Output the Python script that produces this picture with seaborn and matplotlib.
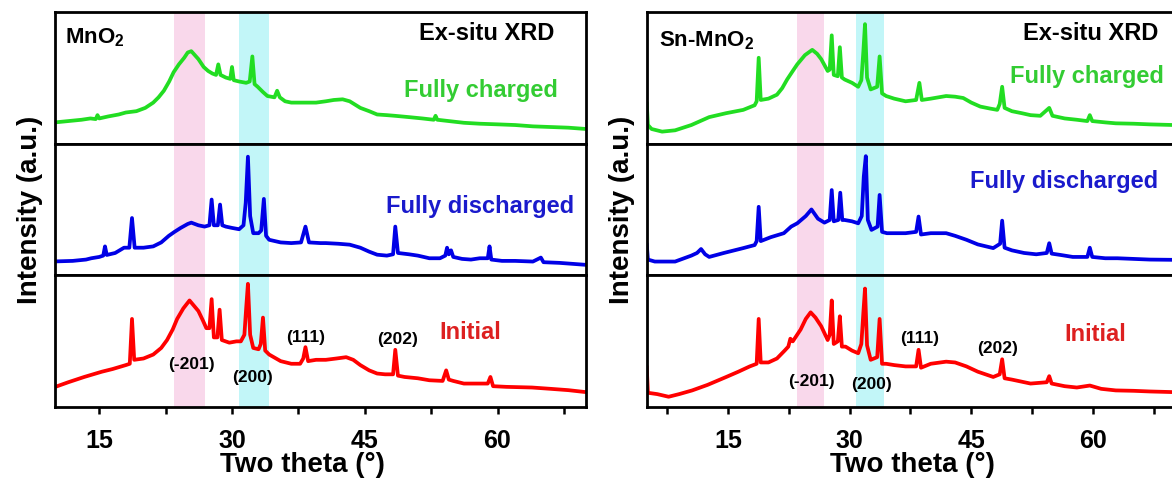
import matplotlib
matplotlib.use("Agg")
import matplotlib.pyplot as plt
from matplotlib.ticker import MultipleLocator
import seaborn as sns

# ---------------- data: normalised intensity per pattern ----------------
# MnO2, fully charged
mno2_charged_x = [10.0, 11.5, 13.0, 14.0, 14.6, 14.8, 15.0, 16.0, 17.2, 18.0, 19.2, 20.2, 21.1, 21.7,
                  22.3, 22.9, 23.4, 24.0, 24.6, 25.0, 25.4, 25.8, 26.2, 26.8, 27.3, 27.8, 28.2, 28.45,
                  28.7, 29.3, 29.8, 30.0, 30.2, 30.8, 31.6, 32.0, 32.3, 32.55, 32.9, 33.5, 34.0, 34.8,
                  35.1, 35.4, 36.0, 36.7, 38.0, 39.5, 40.6, 41.5, 42.5, 43.3, 44.5, 45.5, 46.4, 47.5,
                  48.4, 50.0, 51.5, 52.8, 53.0, 53.2, 54.5, 56.2, 58.0, 60.1, 62.0, 64.0, 66.0, 68.0, 70.0]
mno2_charged_y = [0.16, 0.17, 0.18, 0.19, 0.185, 0.215, 0.19, 0.205, 0.22, 0.235, 0.245, 0.27, 0.31, 0.35,
                  0.40, 0.47, 0.54, 0.60, 0.65, 0.69, 0.70, 0.67, 0.64, 0.58, 0.55, 0.53, 0.52, 0.60,
                  0.52, 0.50, 0.49, 0.58, 0.48, 0.47, 0.46, 0.47, 0.66, 0.45, 0.43, 0.39, 0.36, 0.35,
                  0.40, 0.35, 0.32, 0.31, 0.31, 0.31, 0.32, 0.33, 0.335, 0.32, 0.27, 0.245, 0.22, 0.215,
                  0.21, 0.20, 0.19, 0.18, 0.21, 0.18, 0.17, 0.157, 0.15, 0.145, 0.14, 0.13, 0.125, 0.12, 0.11]

# MnO2, fully discharged
mno2_discharged_x = [10.0, 12.0, 13.5, 14.1, 15.0, 15.45, 15.65, 15.85, 16.8, 17.8, 18.4, 18.7, 19.0, 20.0,
                     21.1, 22.0, 22.86, 23.5, 24.2, 25.0, 25.4, 26.2, 26.9, 27.45, 27.7, 27.95, 28.4, 28.65,
                     28.9, 29.3, 30.0, 30.8, 31.3, 31.55, 31.8, 32.05, 32.4, 33.0, 33.3, 33.6, 33.85, 34.2,
                     35.5, 36.7, 37.8, 38.3, 38.7, 40.0, 40.6, 42.0, 43.3, 44.5, 45.5, 46.4, 47.5, 48.2,
                     48.45, 48.75, 50.0, 51.0, 52.3, 53.5, 54.1, 54.3, 54.5, 54.75, 55.0, 56.0, 57.0, 58.0,
                     58.9, 59.1, 59.3, 60.5, 62.0, 64.0, 64.9, 65.2, 67.0, 70.0]
mno2_discharged_y = [0.106, 0.11, 0.12, 0.13, 0.14, 0.15, 0.22, 0.155, 0.17, 0.21, 0.21, 0.435, 0.21, 0.21,
                     0.22, 0.25, 0.30, 0.33, 0.36, 0.39, 0.40, 0.38, 0.37, 0.38, 0.575, 0.38, 0.38, 0.537,
                     0.38, 0.37, 0.36, 0.35, 0.38, 0.55, 0.90, 0.45, 0.32, 0.32, 0.34, 0.58, 0.30, 0.27,
                     0.25, 0.245, 0.25, 0.37, 0.25, 0.245, 0.245, 0.24, 0.233, 0.21, 0.18, 0.157, 0.15, 0.16,
                     0.37, 0.17, 0.16, 0.15, 0.13, 0.13, 0.15, 0.21, 0.16, 0.19, 0.14, 0.125, 0.12, 0.13,
                     0.13, 0.22, 0.12, 0.11, 0.11, 0.105, 0.135, 0.10, 0.095, 0.08]

# MnO2, initial
mno2_initial_x = [10.0, 11.5, 13.3, 15.3, 16.5, 18.0, 18.45, 18.7, 18.95, 20.0, 21.1, 22.0, 22.66, 23.3,
                  23.8, 24.5, 25.2, 25.7, 26.2, 26.7, 27.1, 27.45, 27.7, 27.95, 28.35, 28.6, 28.85, 29.7,
                  30.5, 31.0, 31.4, 31.6, 31.8, 32.05, 32.4, 33.0, 33.25, 33.5, 33.75, 34.2, 35.5, 36.7,
                  37.7, 38.05, 38.3, 38.6, 39.5, 40.6, 41.8, 42.9, 43.7, 44.5, 45.5, 46.4, 47.3, 48.2,
                  48.45, 48.75, 49.5, 51.0, 52.3, 53.8, 54.2, 54.5, 55.0, 56.2, 57.5, 58.9, 59.2, 59.5,
                  61.0, 63.9, 66.0, 68.0, 70.0]
mno2_initial_y = [0.154, 0.19, 0.23, 0.27, 0.29, 0.32, 0.33, 0.67, 0.36, 0.37, 0.40, 0.45, 0.51, 0.59,
                  0.67, 0.75, 0.81, 0.77, 0.73, 0.66, 0.60, 0.60, 0.82, 0.53, 0.53, 0.74, 0.51, 0.49,
                  0.50, 0.50, 0.55, 0.75, 0.936, 0.55, 0.45, 0.44, 0.48, 0.68, 0.43, 0.40, 0.35, 0.33,
                  0.33, 0.37, 0.456, 0.35, 0.36, 0.36, 0.37, 0.38, 0.36, 0.32, 0.28, 0.256, 0.25, 0.25,
                  0.436, 0.24, 0.23, 0.22, 0.205, 0.20, 0.28, 0.21, 0.20, 0.18, 0.18, 0.18, 0.23, 0.16,
                  0.155, 0.15, 0.14, 0.13, 0.115]

# Sn-MnO2, fully charged
sn_charged_x = [5.0, 5.15, 5.6, 6.9, 8.5, 10.5, 12.7, 14.8, 16.9, 18.3, 18.55, 18.8, 19.05, 20.0, 21.05,
                21.7, 22.3, 23.0, 23.55, 24.5, 25.4, 26.0, 26.5, 27.3, 27.55, 27.8, 28.05, 28.55, 28.8,
                29.05, 29.4, 30.3, 31.06, 31.45, 31.7, 31.9, 32.15, 32.6, 33.4, 33.7, 34.0, 34.5, 35.5,
                36.9, 38.2, 38.6, 38.9, 40.0, 41.9, 43.0, 44.0, 45.0, 46.1, 47.3, 48.2, 48.5, 48.8, 49.1,
                50.0, 51.2, 52.3, 53.5, 54.6, 55.0, 56.5, 58.0, 59.3, 59.6, 59.9, 61.5, 62.8, 65.0, 67.0, 70.0]
sn_charged_y = [0.31, 0.14, 0.11, 0.09, 0.10, 0.14, 0.20, 0.23, 0.255, 0.29, 0.32, 0.65, 0.33, 0.34, 0.37,
                0.42, 0.485, 0.55, 0.60, 0.67, 0.71, 0.68, 0.64, 0.55, 0.56, 0.82, 0.52, 0.51, 0.73,
                0.50, 0.485, 0.46, 0.43, 0.48, 0.70, 0.905, 0.50, 0.41, 0.43, 0.66, 0.38, 0.36, 0.34,
                0.32, 0.33, 0.46, 0.33, 0.34, 0.36, 0.355, 0.345, 0.31, 0.28, 0.265, 0.255, 0.30, 0.43, 0.27,
                0.245, 0.23, 0.215, 0.21, 0.27, 0.21, 0.19, 0.18, 0.17, 0.215, 0.17, 0.16, 0.153, 0.15, 0.145, 0.14]

# Sn-MnO2, fully discharged
sn_discharged_x = [5.0, 5.15, 6.0, 8.5, 10.5, 11.2, 11.7, 12.2, 12.7, 14.5, 16.9, 18.3, 18.55, 18.8, 19.05,
                   20.3, 21.9, 22.8, 23.55, 24.6, 25.3, 26.1, 26.9, 27.55, 27.8, 28.05, 28.6, 28.85, 29.1,
                   29.4, 30.3, 31.06, 31.5, 31.75, 32.0, 32.25, 32.7, 33.45, 33.7, 34.0, 34.6, 35.8, 36.9,
                   38.2, 38.5, 38.8, 40.0, 41.9, 43.0, 44.4, 45.8, 47.7, 48.55, 48.8, 49.1, 50.0, 51.5, 53.0,
                   54.3, 54.6, 54.9, 56.0, 57.5, 59.3, 59.6, 59.9, 61.5, 63.0, 65.0, 67.0, 70.0]
sn_discharged_y = [0.24, 0.12, 0.105, 0.105, 0.15, 0.17, 0.20, 0.16, 0.14, 0.17, 0.207, 0.23, 0.26, 0.52, 0.26,
                   0.29, 0.32, 0.37, 0.395, 0.45, 0.50, 0.43, 0.40, 0.42, 0.647, 0.41, 0.42, 0.627, 0.42,
                   0.42, 0.41, 0.395, 0.45, 0.75, 0.904, 0.42, 0.345, 0.37, 0.61, 0.33, 0.32, 0.32, 0.32,
                   0.33, 0.446, 0.31, 0.32, 0.32, 0.30, 0.27, 0.235, 0.207, 0.24, 0.415, 0.21, 0.19, 0.17, 0.16,
                   0.17, 0.244, 0.165, 0.155, 0.14, 0.14, 0.21, 0.14, 0.13, 0.13, 0.125, 0.12, 0.118]

# Sn-MnO2, initial
sn_initial_x = [5.0, 5.15, 6.3, 7.7, 9.0, 10.6, 12.5, 14.8, 16.3, 17.7, 18.55, 18.8, 19.05, 20.0, 21.05,
                22.0, 22.45, 22.7, 23.0, 23.97, 24.6, 25.2, 25.8, 26.5, 27.3, 27.55, 27.8, 28.05, 28.55,
                28.8, 29.05, 29.5, 30.3, 31.06, 31.45, 31.7, 31.9, 32.15, 32.6, 33.4, 33.7, 34.0, 34.5,
                35.5, 36.9, 38.2, 38.5, 38.8, 40.0, 41.9, 43.0, 44.4, 45.8, 47.7, 48.5, 48.8, 49.1, 50.0,
                52.3, 54.3, 54.6, 54.9, 56.5, 58.0, 59.6, 61.0, 62.8, 65.0, 67.0, 70.0]
sn_initial_y = [0.31, 0.11, 0.10, 0.08, 0.10, 0.128, 0.17, 0.23, 0.27, 0.31, 0.33, 0.67, 0.34, 0.34, 0.37,
                0.43, 0.46, 0.52, 0.50, 0.59, 0.67, 0.72, 0.68, 0.615, 0.51, 0.55, 0.81, 0.48, 0.50,
                0.69, 0.46, 0.46, 0.43, 0.41, 0.48, 0.72, 0.90, 0.47, 0.36, 0.38, 0.67, 0.33, 0.33,
                0.32, 0.31, 0.31, 0.436, 0.30, 0.33, 0.346, 0.34, 0.31, 0.27, 0.23, 0.25, 0.364, 0.22, 0.21,
                0.18, 0.19, 0.236, 0.18, 0.16, 0.15, 0.165, 0.14, 0.128, 0.125, 0.12, 0.115]

state_names = ["Fully charged", "Fully discharged", "Initial"]
line_colors = ["#22dd22", "#0000e6", "#ff0000"]
text_colors = ["#33cc33", "#1a1acc", "#dd2020"]
peak_labels = ["(-201)", "(200)", "(111)", "(202)"]
panel_titles = ["MnO$_2$", "Sn-MnO$_2$"]
x_ranges = [(10, 70), (5, 70)]
band_201 = (23.5, 26.9)
band_200 = (30.8, 34.2)

panels = [
    [(mno2_charged_x, mno2_charged_y), (mno2_discharged_x, mno2_discharged_y), (mno2_initial_x, mno2_initial_y)],
    [(sn_charged_x, sn_charged_y), (sn_discharged_x, sn_discharged_y), (sn_initial_x, sn_initial_y)],
]

# label placement (data x, axes-fraction y) for each panel
peak_label_pos = [
    [(25.4, 0.33), (32.35, 0.23), (38.3, 0.54), (48.7, 0.52)],
    [(25.3, 0.20), (32.7, 0.18), (38.6, 0.53), (48.2, 0.45)],
]
state_label_pos = [
    [(0.947, 0.41, "right"), (0.977, 0.53, "right"), (56.9, 0.577, "center")],
    [(0.98, 0.517, "right"), (0.97, 0.72, "right"), (60.3, 0.56, "center")],
]
title_pos = [(0.019, 0.81), (0.024, 0.79)]
exsitu_pos = [(0.94, 0.84), (0.97, 0.84)]

# ---------------- styling ----------------
sns.set_style("white")
plt.rcParams["font.family"] = ["Liberation Sans", "DejaVu Sans"]
plt.rcParams["font.weight"] = "bold"
plt.rcParams["text.color"] = "black"
plt.rcParams["axes.labelcolor"] = "black"
plt.rcParams["xtick.color"] = "black"
plt.rcParams["xtick.labelcolor"] = "black"
plt.rcParams["mathtext.fontset"] = "custom"
plt.rcParams["mathtext.rm"] = "Liberation Sans:bold"
plt.rcParams["mathtext.it"] = "Liberation Sans:bold"
plt.rcParams["mathtext.bf"] = "Liberation Sans:bold"
plt.rcParams["mathtext.default"] = "bf"

W, H = 1172, 481
fig = plt.figure(figsize=(W / 100, H / 100), dpi=100)

panel_left_px = [55.0, 646.7]
panel_width_px = [531.0, 527.5]
bottom_px = 72.7
row_h_px = 131.9

for p in range(2):
    x0 = panel_left_px[p] / W
    w = panel_width_px[p] / W
    for r in range(3):
        # row 0 is the top subplot
        y0 = (bottom_px + (2 - r) * row_h_px) / H
        ax = fig.add_axes([x0, y0, w, row_h_px / H])
        ax.axvspan(*band_201, color="#f9d8eb", lw=0, zorder=0)
        ax.axvspan(*band_200, color="#c2f6f8", lw=0, zorder=0)
        xs, ys = panels[p][r]
        sns.lineplot(x=xs, y=ys, ax=ax, color=line_colors[r], linewidth=2.7, zorder=2)
        ax.set_xlim(*x_ranges[p])
        ax.set_ylim(0, 1)
        ax.set_yticks([])
        ax.set_xlabel("")
        ax.set_ylabel("")
        for s in ax.spines.values():
            s.set_linewidth(2.0)
            s.set_color("black")
            s.set_zorder(5)
        ax.xaxis.set_major_locator(MultipleLocator(15))
        ax.xaxis.set_minor_locator(MultipleLocator(7.5))
        if r < 2:
            ax.tick_params(axis="x", which="both", bottom=False, labelbottom=False)
        else:
            ax.tick_params(axis="x", which="both", direction="out", length=5, width=1.8,
                           bottom=True, pad=10, labelsize=18, color="black", labelcolor="black")
            for lab in ax.get_xticklabels():
                lab.set_fontweight("bold")

        # state label
        sx, sy, ha = state_label_pos[p][r]
        trans = ax.transAxes if ha == "right" else ax.get_xaxis_transform()
        ax.text(sx, sy, state_names[r], transform=trans, ha=ha, va="center",
                fontsize=17, fontweight="bold", color=text_colors[r])

        if r == 0:
            tx, ty = title_pos[p]
            ax.text(tx, ty, panel_titles[p], transform=ax.transAxes, ha="left", va="center",
                    fontsize=16, fontweight="bold", color="black")
            ex, ey = exsitu_pos[p]
            ax.text(ex, ey, "Ex-situ XRD", transform=ax.transAxes, ha="right", va="center",
                    fontsize=17, fontweight="bold", color="black")
        if r == 2:
            for lbl, (lx, ly) in zip(peak_labels, peak_label_pos[p]):
                ax.text(lx, ly, lbl, transform=ax.get_xaxis_transform(), ha="center", va="center",
                        fontsize=12.5, fontweight="bold", color="black")

# shared axis titles
for xc in (30, 622):
    fig.text(xc / W, 1 - 210 / H, "Intensity (a.u.)", rotation=90, ha="center", va="center",
             fontsize=20, fontweight="bold", color="black")
for xc in (302, 912):
    fig.text(xc / W, 1 - 465 / H, "Two theta (°)", ha="center", va="center",
             fontsize=20, fontweight="bold", color="black")

fig.savefig("out.png", dpi=100)
